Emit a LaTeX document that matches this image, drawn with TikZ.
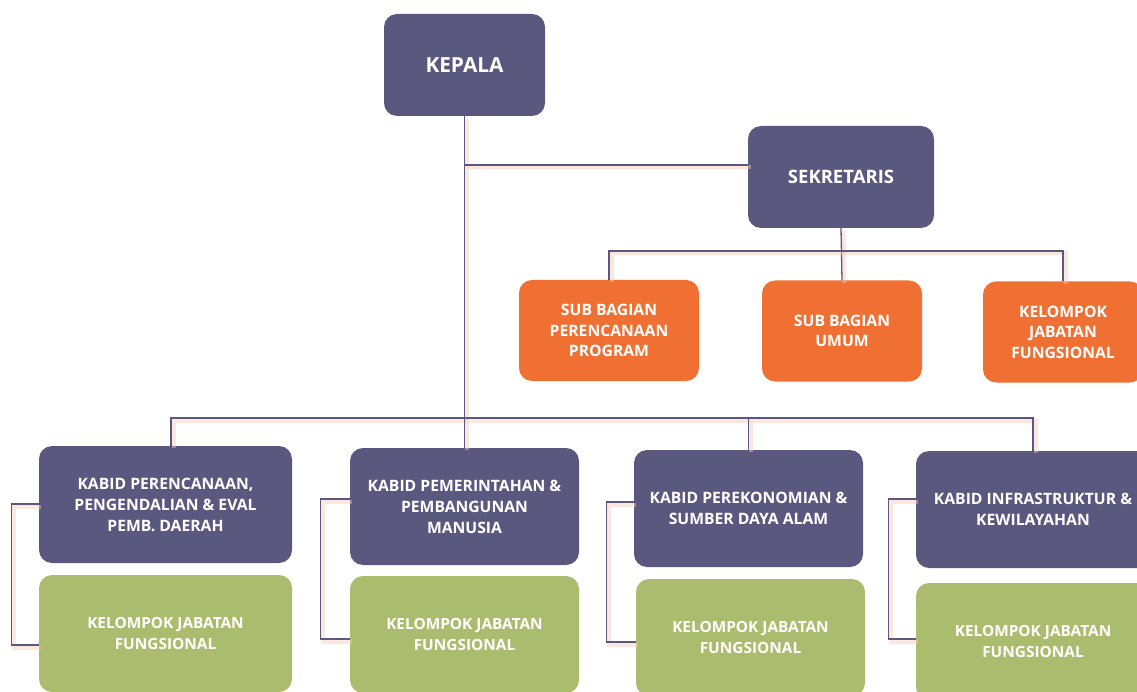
\documentclass[tikz,border=0pt]{standalone}
\usepackage{fontspec}
\setmainfont{Open Sans}
\usetikzlibrary{calc,positioning}

\definecolor{boss}{HTML}{5B587F}
\definecolor{subc}{HTML}{F07034}
\definecolor{jfc}{HTML}{ACBC6E}
\definecolor{linec}{HTML}{5B587F}
\definecolor{peach}{HTML}{F7C9B3}

\begin{document}
\begin{tikzpicture}[x=1pt,y=-1pt,
    box/.style={rounded corners=13pt, text=white, align=center, font=\bfseries\fontsize{15.7}{21}\selectfont, inner sep=0pt},
    head/.style={box, fill=boss, minimum width=161pt, minimum height=102pt, font=\bfseries\fontsize{20.8}{24}\selectfont},
    sek/.style={box, fill=boss, minimum width=186pt, minimum height=102pt, font=\bfseries\fontsize{18.5}{22}\selectfont},
    sub/.style={box, fill=subc, minimum width=160pt, minimum height=101pt, font=\bfseries\fontsize{15.7}{20.5}\selectfont},
    kabid/.style={box, fill=boss, minimum height=117pt},
    kjf/.style={box, fill=jfc, minimum height=117pt, font=\bfseries\fontsize{15.4}{21}\selectfont},
    link/.style={draw=linec, line width=1.3pt,
      preaction={draw=peach, line width=4pt, opacity=.45, transform canvas={shift={(2.5pt,-2.5pt)}}}}]
  \useasboundingbox (0,0) rectangle (1137,692);

  % top
  \node[head] (kepala) at (464.5,65) {KEPALA};
  \node[sek] (sekretaris) at (841,177) {SEKRETARIS};

  % sub bagian
  \node[sub, minimum width=180pt] (subprog) at (609,330.5) {SUB BAGIAN\\PERENCANAAN\\PROGRAM};
  \node[sub] (subumum) at (842,331) {SUB BAGIAN\\UMUM};
  \node[sub] (subjf) at (1063,332) {KELOMPOK\\JABATAN\\FUNGSIONAL};

  % kabid
  \node[kabid, minimum width=253pt] (kabid1) at (165.5,504.5) {KABID PERENCANAAN,\\PENGENDALIAN \& EVAL\\PEMB. DAERAH};
  \node[kabid, minimum width=229pt] (kabid2) at (464.5,506.5) {KABID PEMERINTAHAN \&\\PEMBANGUNAN\\MANUSIA};
  \node[kabid, minimum width=229pt] (kabid3) at (748.5,508.5) {KABID PEREKONOMIAN \&\\SUMBER DAYA ALAM};
  \node[kabid, minimum width=234pt] (kabid4) at (1033,509.5) {KABID INFRASTRUKTUR \&\\KEWILAYAHAN};

  % kelompok jabatan fungsional
  \node[kjf, minimum width=253pt] (kjf1) at (165.5,633.5) {KELOMPOK JABATAN\\FUNGSIONAL};
  \node[kjf, minimum width=229pt] (kjf2) at (464.5,634.5) {KELOMPOK JABATAN\\FUNGSIONAL};
  \node[kjf, minimum width=229pt] (kjf3) at (750.5,637.5) {KELOMPOK JABATAN\\FUNGSIONAL};
  \node[kjf, minimum width=234pt] (kjf4) at (1033,641.5) {KELOMPOK JABATAN\\FUNGSIONAL};

  \coordinate (bus) at (464.5,418);
  \coordinate (sekbus) at (841,251);
  \coordinate (sekin) at (748,165);

  % lines
  \draw[link] (kepala.south) -- (bus);
  \draw[link] (kepala.south |- sekin) -- (sekin);
  \draw[link] (sekretaris.south) -- (subumum.north);
  \draw[link] (subprog.north) -- (subprog.north |- sekbus) -- (subjf.north |- sekbus) -- (subjf.north);
  \draw[link] ($(kabid1.north)+(5.5,0)$) -- ($(kabid1.north |- bus)+(5.5,0)$) -- (kabid4.north |- bus) -- (kabid4.north);
  \draw[link] (kabid2.north |- bus) -- (kabid2.north);
  \draw[link] (kabid3.north |- bus) -- (kabid3.north);

  \draw[link] ($(kabid1.west)+(0,-.5)$) -- ++(-27,0) |- ($(kjf1.west)+(0,11.5)$);
  \draw[link] ($(kabid2.west)+(0,-7.5)$) -- ++(-29,0) |- ($(kjf2.west)+(0,4.5)$);
  \draw[link] ($(kabid3.west)+(0,-6.5)$) -- ++(-27,0) |- ($(kjf3.west)+(0,4.5)$);
  \draw[link] ($(kabid4.west)+(0,-10.5)$) -- ++(-27,0) |- ($(kjf4.west)+(0,-2.5)$);
\end{tikzpicture}
\end{document}
